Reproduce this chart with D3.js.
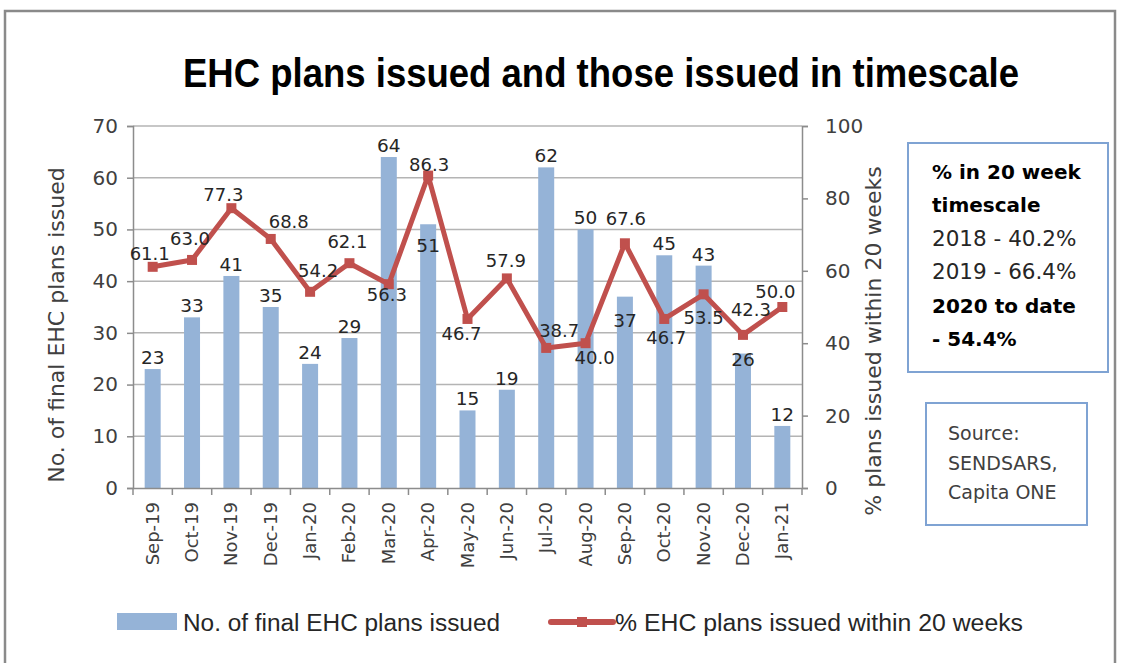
<!DOCTYPE html>
<html>
<head>
<meta charset="utf-8">
<script src="https://cdn.jsdelivr.net/npm/d3@7"></script>
<style>
  body { margin: 0; background: #fff; }
  text { font-family: "DejaVu Sans", sans-serif; }
</style>
</head>
<body>
<div id="chart"></div>
<script>
// chart data
const months = ["Sep-19", "Oct-19", "Nov-19", "Dec-19", "Jan-20", "Feb-20", "Mar-20", "Apr-20",
  "May-20", "Jun-20", "Jul-20", "Aug-20", "Sep-20", "Oct-20", "Nov-20", "Dec-20", "Jan-21"];
const plansIssued = [23, 33, 41, 35, 24, 29, 64, 51, 15, 19, 62, 50, 37, 45, 43, 26, 12];
const pctInTime = [61.1, 63.0, 77.3, 68.8, 54.2, 62.1, 56.3, 86.3, 46.7, 57.9, 38.7, 40.0, 67.6, 46.7, 53.5, 42.3, 50.0];
const leftTicks = [0, 10, 20, 30, 40, 50, 60, 70];
const rightTicks = [0, 20, 40, 60, 80, 100];
const infoLines = [
  { text: "% in 20 week", bold: true },
  { text: "timescale", bold: true },
  { text: "2018 - 40.2%", bold: false },
  { text: "2019 - 66.4%", bold: false },
  { text: "2020 to date", bold: true },
  { text: "- 54.4%", bold: true }
];
const sourceLines = ["Source:", "SENDSARS,", "Capita ONE"];

// label nudges (dx, dy of label centre from the point), as Excel placed them
const lineLabelShift = [[-3, -14], [-2, -22], [-8, -14], [18, -18], [8, -22], [-2, -22], [-2, 10], [1, -12],
  [-6, 14], [-1, -18], [13, -18], [9, 14], [1, -25], [2, 18], [0, 23], [8, -26], [-7, -16]];
const barLabelShift = [0, 0, 0, 0, 0, 0, 0, 33, 0, 0, 0, 0, 35, 0, 0, 17, 0];

const W = 1121, H = 663;
const plot = { left: 133, right: 802, top: 126, bottom: 488 };

const svg = d3.select("#chart").append("svg")
  .attr("width", W).attr("height", H);

// outer frame
svg.append("rect")
  .attr("x", 5).attr("y", 11).attr("width", 1110).attr("height", 670)
  .attr("fill", "none").attr("stroke", "#8a8a8a").attr("stroke-width", 2.5);

// title
svg.append("text")
  .attr("x", 601).attr("y", 87)
  .attr("text-anchor", "middle")
  .attr("font-weight", "bold").attr("font-size", 41)
  .attr("textLength", 836).attr("lengthAdjust", "spacingAndGlyphs")
  .style("font-family", "'Liberation Sans', Arial, sans-serif")
  .text("EHC plans issued and those issued in timescale");

const x = d3.scaleBand().domain(months).range([plot.left, plot.right]);
const yL = d3.scaleLinear().domain([0, 70]).range([plot.bottom, plot.top]);
const yR = d3.scaleLinear().domain([0, 100]).range([plot.bottom, plot.top]);

// gridlines
svg.append("g").selectAll("line").data(leftTicks.filter(d => d > 0)).join("line")
  .attr("x1", plot.left).attr("x2", plot.right)
  .attr("y1", d => yL(d)).attr("y2", d => yL(d))
  .attr("stroke", "#b4b4b4").attr("stroke-width", 1.5);

// bars
const barW = 16;
svg.append("g").selectAll("rect").data(plansIssued).join("rect")
  .attr("x", (d, i) => x(months[i]) + x.bandwidth() / 2 - barW / 2)
  .attr("y", d => yL(d))
  .attr("width", barW)
  .attr("height", d => yL(0) - yL(d))
  .attr("fill", "#95b3d7");

// axes
const axisColor = "#8c8c8c";
const gL = svg.append("g").attr("transform", `translate(${plot.left},0)`)
  .call(d3.axisLeft(yL).tickValues(leftTicks).tickSize(6).tickPadding(9));
const gR = svg.append("g").attr("transform", `translate(${plot.right},0)`)
  .call(d3.axisRight(yR).tickValues(rightTicks).tickSize(6).tickPadding(17));
const gX = svg.append("g").attr("transform", `translate(0,${plot.bottom})`)
  .call(d3.axisBottom(x).tickSize(0).tickFormat(""));

[gL, gR, gX].forEach(g => {
  g.select(".domain").attr("stroke", axisColor).attr("stroke-width", 1.5);
  g.selectAll(".tick line").attr("stroke", axisColor).attr("stroke-width", 1.5);
  g.selectAll(".tick text")
    .attr("fill", "#404040").attr("font-size", 20)
    .style("font-family", "'DejaVu Sans', sans-serif");
});

// category tick marks at band boundaries
svg.append("g").selectAll("line").data(months.concat(["end"])).join("line")
  .attr("x1", (d, i) => plot.left + i * x.step())
  .attr("x2", (d, i) => plot.left + i * x.step())
  .attr("y1", plot.bottom).attr("y2", plot.bottom + 7)
  .attr("stroke", axisColor).attr("stroke-width", 1.5);

// category labels
svg.append("g").selectAll("text").data(months).join("text")
  .attr("transform", d => `translate(${x(d) + x.bandwidth() / 2 + 6},${plot.bottom + 14}) rotate(-90)`)
  .attr("text-anchor", "end")
  .attr("fill", "#404040").attr("font-size", 18)
  .text(d => d);

// axis titles
svg.append("text")
  .attr("transform", `translate(64,325) rotate(-90)`)
  .attr("text-anchor", "middle").attr("fill", "#404040").attr("font-size", 22)
  .text("No. of final EHC plans issued");
svg.append("text")
  .attr("transform", `translate(881,341) rotate(-90)`)
  .attr("text-anchor", "middle").attr("fill", "#404040").attr("font-size", 22)
  .text("% plans issued within 20 weeks");

// line series
const line = d3.line()
  .x((d, i) => x(months[i]) + x.bandwidth() / 2)
  .y(d => yR(d));
svg.append("path").datum(pctInTime)
  .attr("d", line)
  .attr("fill", "none").attr("stroke", "#c0504d")
  .attr("stroke-width", 5).attr("stroke-linejoin", "round");
svg.append("g").selectAll("rect").data(pctInTime).join("rect")
  .attr("x", (d, i) => x(months[i]) + x.bandwidth() / 2 - 5)
  .attr("y", d => yR(d) - 5)
  .attr("width", 10).attr("height", 10)
  .attr("fill", "#c0504d");

// bar value labels
svg.append("g").selectAll("text").data(plansIssued).join("text")
  .attr("x", (d, i) => x(months[i]) + x.bandwidth() / 2)
  .attr("y", (d, i) => yL(d) - 5 + barLabelShift[i])
  .attr("text-anchor", "middle").attr("fill", "#262626").attr("font-size", 18.5)
  .text(d => d);

// line value labels
svg.append("g").selectAll("text").data(pctInTime).join("text")
  .attr("x", (d, i) => x(months[i]) + x.bandwidth() / 2 + lineLabelShift[i][0])
  .attr("y", (d, i) => yR(d) + lineLabelShift[i][1] + 7)
  .attr("text-anchor", "middle").attr("fill", "#262626").attr("font-size", 18)
  .text(d => d.toFixed(1));

// info box
svg.append("rect")
  .attr("x", 908).attr("y", 143).attr("width", 200).attr("height", 229)
  .attr("fill", "#fff").attr("stroke", "#7fa3d3").attr("stroke-width", 2);
svg.append("g").selectAll("text").data(infoLines).join("text")
  .attr("x", 932).attr("y", (d, i) => 179 + i * 33.4)
  .attr("fill", d => d.bold ? "#000" : "#262626")
  .attr("font-weight", d => d.bold ? "bold" : "normal")
  .attr("font-size", d => d.bold ? 20 : 21.5)
  .text(d => d.text);

// source box
svg.append("rect")
  .attr("x", 926).attr("y", 403).attr("width", 161).attr("height", 122)
  .attr("fill", "#fff").attr("stroke", "#7fa3d3").attr("stroke-width", 2);
svg.append("g").selectAll("text").data(sourceLines).join("text")
  .attr("x", 948).attr("y", (d, i) => 440 + i * 29.5)
  .attr("fill", "#404040").attr("font-size", 19)
  .text(d => d);

// legend
const lg = svg.append("g");
lg.append("rect").attr("x", 117).attr("y", 613).attr("width", 60).attr("height", 17).attr("fill", "#95b3d7");
lg.append("text").attr("x", 183).attr("y", 631).attr("font-size", 23).attr("fill", "#262626")
  .attr("textLength", 317).attr("lengthAdjust", "spacingAndGlyphs")
  .style("font-family", "'Liberation Sans', Arial, sans-serif")
  .text("No. of final EHC plans issued");
lg.append("line").attr("x1", 551).attr("x2", 613).attr("y1", 622).attr("y2", 622)
  .attr("stroke", "#c0504d").attr("stroke-width", 6).attr("stroke-linecap", "round");
lg.append("rect").attr("x", 577).attr("y", 617).attr("width", 10).attr("height", 10).attr("fill", "#c0504d");
lg.append("text").attr("x", 615).attr("y", 631).attr("font-size", 23).attr("fill", "#262626")
  .attr("textLength", 408).attr("lengthAdjust", "spacingAndGlyphs")
  .style("font-family", "'Liberation Sans', Arial, sans-serif")
  .text("% EHC plans issued within 20 weeks");
</script>
</body>
</html>
